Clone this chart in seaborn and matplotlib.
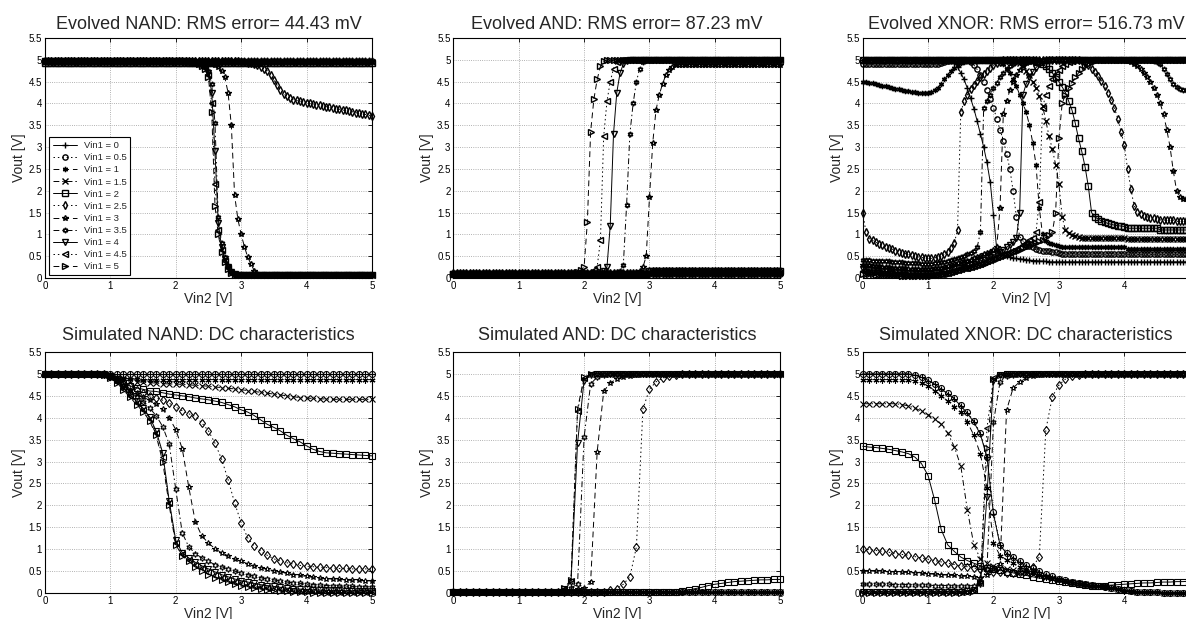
import numpy as np
import pandas as pd
import seaborn as sns
import matplotlib
matplotlib.use('Agg')
from matplotlib import pyplot as plt

vin1_labels = ['Vin1 = 0', 'Vin1 = 0.5', 'Vin1 = 1', 'Vin1 = 1.5', 'Vin1 = 2', 'Vin1 = 2.5',
               'Vin1 = 3', 'Vin1 = 3.5', 'Vin1 = 4', 'Vin1 = 4.5', 'Vin1 = 5']
evo_step = 0.05   # Vin2 sweep step of the evolved curves
sim_step = 0.1    # Vin2 sweep step of the simulated curves

# ---- Evolved NAND ----
en_0 = [5.0] * 101
en_05 = [4.98] * 101
en_1 = [4.96] * 101
en_15 = [4.94] * 101
en_2 = [4.92] * 101
en_25 = [4.97] * 60 + [4.95, 4.94, 4.93, 4.92, 4.9, 4.87, 4.84, 4.8, 4.75, 4.65, 4.54, 4.42, 4.31, 4.22, 4.16,
                       4.12, 4.09, 4.07, 4.05, 4.04, 4.02] + \
        [4.0, 3.99, 3.97, 3.96, 3.94, 3.93, 3.91, 3.9, 3.88, 3.87, 3.85, 3.84, 3.82, 3.81, 3.79, 3.78, 3.76,
         3.75, 3.73, 3.72]
en_3 = [4.97] * 48 + [4.96, 4.95, 4.93, 4.9, 4.87, 4.83, 4.75, 4.6, 4.25, 3.5, 1.9, 1.35, 1.0, 0.72, 0.48,
                      0.32, 0.17, 0.1] + [0.08] * 35
en_35 = [4.97] * 44 + [4.96, 4.95, 4.93, 4.91, 4.88, 4.84, 4.75, 4.45, 3.55, 1.4, 0.8, 0.48, 0.28, 0.15, 0.1] + [0.08] * 42
en_4 = [4.97] * 44 + [4.96, 4.95, 4.93, 4.91, 4.88, 4.83, 4.7, 4.25, 2.9, 1.26, 0.72, 0.44, 0.25, 0.13, 0.09] + [0.08] * 42
en_45 = [4.97] * 44 + [4.96, 4.95, 4.93, 4.9, 4.87, 4.82, 4.65, 4.0, 2.15, 1.1, 0.65, 0.4, 0.22, 0.12, 0.08] + [0.08] * 42
en_5 = [4.97] * 44 + [4.96, 4.94, 4.92, 4.9, 4.86, 4.8, 4.6, 3.8, 1.65, 1.0, 0.6, 0.36, 0.2, 0.11, 0.08] + [0.08] * 42

# ---- Evolved AND ----
ea_0 = [0.08] * 101
ea_05 = [0.1] * 101
ea_1 = [0.12] * 101
ea_15 = [0.1] * 60 + [0.13] * 41
ea_2 = [0.09] * 60 + [0.15] * 41
ea_25 = [0.11] * 60 + [0.17] * 41
ea_3 = [0.1] * 57 + [0.15, 0.25, 0.5, 1.85, 3.1, 3.85, 4.2, 4.45, 4.65, 4.77, 4.83] + [4.87] * 33
ea_35 = [0.1] * 51 + [0.15, 0.3, 1.67, 3.3, 4.0, 4.5, 4.8, 4.95] + [5.0] * 42
ea_4 = [0.1] * 46 + [0.15, 0.25, 1.2, 3.3, 4.25, 4.7, 4.9, 4.98] + [5.0] * 47
ea_45 = [0.1] * 42 + [0.12, 0.18, 0.25, 0.87, 3.25, 4.05, 4.5, 4.8, 4.95] + [5.0] * 50
ea_5 = [0.1] * 38 + [0.13, 0.18, 0.25, 1.28, 3.35, 4.1, 4.55, 4.85, 4.97] + [5.0] * 54

# ---- Evolved XNOR ----
ex_0 = [5.0] * 27 + [4.98, 4.93, 4.83, 4.7, 4.55, 4.35, 4.12, 3.88, 3.6, 3.3, 3.0, 2.65, 2.2, 1.45, 0.65,
                     0.58, 0.53, 0.5, 0.48, 0.46, 0.45, 0.44, 0.43, 0.42, 0.41, 0.4, 0.4, 0.39, 0.39, 0.38] + [0.37] * 44
ex_05 = [4.9] * 24 + [4.93, 4.96, 4.98] + [5.0] * 6 + \
        [4.95, 4.88, 4.78, 4.65, 4.5, 4.3, 4.1, 3.9, 3.65, 3.4, 3.15, 2.85, 2.5, 2.0, 1.4, 0.95, 0.85, 0.78,
         0.74, 0.7, 0.67, 0.65, 0.63, 0.62, 0.61, 0.6, 0.59, 0.58] + [0.56] * 20 + [0.54] * 20
ex_1 = [4.5, 4.49, 4.48, 4.46, 4.45, 4.43, 4.41, 4.39, 4.37, 4.35, 4.34, 4.32, 4.31, 4.29, 4.28, 4.27, 4.26,
        4.25, 4.24, 4.24, 4.24, 4.26, 4.3, 4.36, 4.45, 4.55, 4.65, 4.74, 4.82, 4.88, 4.93, 4.96, 4.98] + \
       [5.0] * 9 + [4.97, 4.9, 4.8, 4.7, 4.55, 4.4, 4.2, 4.0, 3.8, 3.5, 3.1, 2.6, 1.6, 1.0, 0.85, 0.8, 0.77,
                    0.75, 0.73] + [0.7] * 20 + [0.67] * 20
ex_15 = [5.0] * 47 + [4.97, 4.92, 4.85, 4.75, 4.65, 4.5, 4.35, 4.18, 3.95, 3.6, 3.25, 2.95, 2.6, 2.15, 1.4,
                      1.1, 1.02, 0.98, 0.96, 0.94] + [0.92] * 14 + [0.89] * 20
ex_2 = [5.0] * 53 + [4.98, 4.95, 4.9, 4.85, 4.78, 4.7, 4.6, 4.5, 4.38, 4.25, 4.05, 3.85, 3.55, 3.2, 2.9, 2.55,
                     2.1, 1.5, 1.4, 1.35, 1.31, 1.28, 1.25, 1.23, 1.21, 1.2, 1.19, 1.18] + [1.14] * 10 + [1.1] * 10
ex_25 = [1.5, 1.05, 0.9, 0.86, 0.82, 0.78, 0.75, 0.72, 0.69, 0.66, 0.63, 0.6, 0.58, 0.56, 0.54, 0.52, 0.5,
         0.48, 0.47, 0.46, 0.45, 0.45, 0.46, 0.48, 0.5, 0.54, 0.6, 0.68, 0.8, 1.1, 3.8, 4.05, 4.2, 4.32, 4.42,
         4.52, 4.6, 4.68, 4.75, 4.82, 4.88, 4.92, 4.96] + [5.0] * 24 + \
        [4.97, 4.93, 4.87, 4.8, 4.72, 4.62, 4.52, 4.4, 4.25, 4.08, 3.9, 3.65, 3.35, 3.05, 2.5, 2.05, 1.65, 1.52,
         1.46, 1.42, 1.4, 1.38, 1.37, 1.36] + [1.33] * 5 + [1.3] * 5
ex_3 = [0.3, 0.29, 0.29, 0.28, 0.27, 0.27, 0.26, 0.25, 0.25, 0.24, 0.23, 0.23, 0.22, 0.22, 0.21, 0.21, 0.2,
        0.2, 0.2, 0.2, 0.2] + \
       [0.21, 0.22, 0.23, 0.24, 0.26, 0.28, 0.3, 0.32, 0.34, 0.36, 0.38, 0.4, 0.42, 0.45, 0.48, 0.51, 0.54,
        0.57, 0.6, 0.65, 0.72] + \
       [1.6, 3.75, 4.05, 4.3, 4.5, 4.65, 4.77, 4.86, 4.92, 4.96, 4.98] + [5.0] * 28 + \
       [4.98, 4.95, 4.9, 4.85, 4.78, 4.7, 4.6, 4.5, 4.35, 4.2, 4.0, 3.75, 3.4, 3.0, 2.45, 2.0, 1.85, 1.81, 1.8, 1.8]
ex_35 = [0.42, 0.41, 0.41, 0.4, 0.4, 0.39, 0.39, 0.38, 0.38, 0.37, 0.37, 0.36, 0.36, 0.35, 0.35, 0.34, 0.34,
         0.34, 0.33, 0.33, 0.33] + \
        [0.33, 0.34, 0.35, 0.36, 0.37, 0.39, 0.41, 0.43, 0.45, 0.48, 0.51, 0.54, 0.58, 0.63, 0.7] + \
        [1.05, 3.9, 4.05, 4.2, 4.35, 4.48, 4.6, 4.7, 4.78, 4.85, 4.9, 4.95, 4.98] + [5.0] * 40 + \
        [4.98, 4.95, 4.9, 4.8, 4.68, 4.55, 4.45, 4.38, 4.33, 4.31, 4.3, 4.3]
ex_4 = [0.2, 0.19, 0.19, 0.18, 0.17, 0.17, 0.16, 0.15, 0.15, 0.14, 0.13, 0.13, 0.12, 0.12, 0.11, 0.11, 0.1,
        0.1, 0.1, 0.1, 0.1] + \
       [0.1, 0.11, 0.12, 0.13, 0.14, 0.16, 0.18, 0.2, 0.22, 0.24, 0.26, 0.28, 0.3, 0.33, 0.36, 0.39, 0.42,
        0.45, 0.48, 0.52, 0.56, 0.6, 0.65, 0.7, 0.76, 0.82] + \
       [0.92, 1.5, 4.2, 4.45, 4.6, 4.72, 4.82, 4.9, 4.95, 4.98] + [5.0] * 44
ex_45 = [0.15, 0.14, 0.14, 0.13, 0.13, 0.12, 0.12, 0.11, 0.11, 0.1, 0.1, 0.09, 0.09, 0.08, 0.08, 0.08, 0.07,
         0.07, 0.07, 0.07, 0.07] + \
        [0.07, 0.08, 0.09, 0.1, 0.11, 0.12, 0.14, 0.16, 0.18, 0.2, 0.22, 0.24, 0.26, 0.28, 0.3, 0.33, 0.36,
         0.39, 0.42, 0.45, 0.48, 0.51, 0.54, 0.57, 0.6, 0.63, 0.67, 0.71, 0.75, 0.8, 0.86, 0.92] + \
        [1.05, 1.75, 3.9, 4.2, 4.4, 4.55, 4.67, 4.77, 4.85, 4.91, 4.95, 4.98] + [5.0] * 36
ex_5 = [0.1, 0.1, 0.09, 0.09, 0.08, 0.08, 0.07, 0.07, 0.07, 0.06, 0.06, 0.06, 0.05, 0.05, 0.05, 0.05, 0.05,
        0.05, 0.05, 0.05, 0.05] + \
       [0.05, 0.06, 0.07, 0.08, 0.09, 0.1, 0.12, 0.14, 0.16, 0.18, 0.2, 0.22, 0.24, 0.26, 0.28, 0.3, 0.32,
        0.35, 0.38, 0.41, 0.44, 0.47, 0.5, 0.53, 0.56, 0.59, 0.62, 0.65, 0.68, 0.71, 0.74, 0.77, 0.8, 0.84,
        0.88, 0.93, 0.98] + \
       [1.05, 1.5, 3.2, 4.0, 4.2, 4.35, 4.48, 4.6, 4.7, 4.78, 4.85, 4.9, 4.94, 4.97, 4.99] + [5.0] * 28

# ---- Simulated NAND ----
sn_0 = [5.0] * 51
sn_05 = [4.99] * 51
sn_1 = [5.0] * 10 + [4.97, 4.93, 4.9, 4.89, 4.88] + [4.87] * 36
sn_15 = [5.0] * 9 + [4.98, 4.95, 4.9, 4.87, 4.84, 4.82, 4.81, 4.8, 4.79, 4.78, 4.77, 4.77, 4.76, 4.75, 4.74,
                     4.73, 4.72, 4.7, 4.69, 4.67, 4.66, 4.64, 4.62, 4.6, 4.58, 4.56, 4.54, 4.52, 4.5, 4.48,
                     4.46, 4.45, 4.44, 4.43, 4.43] + [4.42] * 7
sn_2 = [5.0] * 10 + [4.95, 4.88, 4.8, 4.73, 4.68, 4.65, 4.61, 4.6, 4.57, 4.54, 4.52, 4.5, 4.48, 4.45, 4.43,
                     4.41, 4.38, 4.35, 4.3, 4.25, 4.18, 4.13, 4.05, 3.95, 3.85, 3.78, 3.7, 3.6, 3.52, 3.45,
                     3.36, 3.28, 3.23, 3.2, 3.19, 3.18, 3.17, 3.16, 3.15, 3.14, 3.13]
sn_25 = [5.0] * 10 + [4.95, 4.88, 4.8, 4.72, 4.63, 4.56, 4.5, 4.46, 4.4, 4.33, 4.25, 4.16, 4.09, 4.03, 3.88,
                      3.7, 3.42, 3.06, 2.59, 2.06, 1.6, 1.26, 1.07, 0.96, 0.86, 0.78, 0.73, 0.69, 0.66, 0.63,
                      0.61, 0.6, 0.59, 0.58, 0.57, 0.56, 0.56, 0.55, 0.55, 0.55, 0.55]
sn_3 = [5.0] * 10 + [4.95, 4.85, 4.75, 4.63, 4.55, 4.47, 4.4, 4.32, 4.19, 4.0, 3.73, 3.29, 2.41, 1.62, 1.3,
                     1.14, 1.01, 0.92, 0.85, 0.78, 0.72, 0.67, 0.62, 0.58, 0.54, 0.51, 0.48, 0.45, 0.42, 0.4,
                     0.38, 0.36, 0.34, 0.33, 0.32, 0.31, 0.3, 0.29, 0.29, 0.28, 0.28]
sn_35 = [5.0] * 10 + [4.93, 4.83, 4.72, 4.6, 4.48, 4.37, 4.22, 4.05, 3.8, 3.4, 2.37, 1.37, 1.05, 0.9, 0.8,
                      0.72, 0.65, 0.6, 0.55, 0.5, 0.46, 0.42, 0.38, 0.35, 0.32, 0.3, 0.27, 0.25, 0.23, 0.22,
                      0.2, 0.19, 0.18, 0.17, 0.16, 0.16, 0.15, 0.15, 0.14, 0.14, 0.14]
sn_4 = [5.0] * 9 + [4.98, 4.93, 4.85, 4.7, 4.52, 4.38, 4.22, 4.02, 3.7, 3.2, 2.1, 1.2, 0.92, 0.8, 0.7, 0.62,
                    0.55, 0.48, 0.42, 0.37, 0.32, 0.28, 0.25, 0.22, 0.19, 0.17, 0.15, 0.13, 0.11, 0.1, 0.09,
                    0.08, 0.07, 0.07, 0.06, 0.06, 0.06, 0.05, 0.05, 0.05, 0.05, 0.05]
sn_45 = [5.0] * 9 + [4.97, 4.92, 4.82, 4.66, 4.5, 4.34, 4.18, 3.97, 3.65, 3.1, 2.05, 1.15, 0.88, 0.75, 0.65,
                     0.56, 0.48, 0.41, 0.35, 0.3, 0.26, 0.22, 0.19, 0.16, 0.14, 0.12, 0.1, 0.08, 0.07, 0.06,
                     0.05, 0.04, 0.04, 0.03, 0.03, 0.03, 0.03, 0.02, 0.02, 0.02, 0.02, 0.02]
sn_5 = [5.0] * 9 + [4.97, 4.9, 4.8, 4.63, 4.47, 4.3, 4.14, 3.93, 3.6, 3.0, 2.0, 1.1, 0.85, 0.72, 0.6, 0.5,
                    0.42, 0.35, 0.29, 0.24, 0.2, 0.16, 0.13, 0.11, 0.09, 0.07, 0.06, 0.05, 0.04, 0.03, 0.02,
                    0.02] + [0.01] * 10

# ---- Simulated AND ----
sa_0 = [0.02] * 51
sa_05 = [0.02] * 51
sa_1 = [0.02] * 51
sa_15 = [0.02] * 51
sa_2 = [0.02] * 34 + [0.03, 0.04, 0.07, 0.1, 0.13, 0.17, 0.2, 0.22, 0.24, 0.26, 0.27, 0.28, 0.29, 0.3, 0.3,
                      0.31, 0.31]
sa_25 = [0.02] * 23 + [0.03, 0.06, 0.1, 0.2, 0.37, 1.05, 4.2, 4.65, 4.82, 4.9, 4.95, 4.98] + [5.0] * 16
sa_3 = [0.02] * 18 + [0.04, 0.08, 0.12, 0.25, 3.22, 4.6, 4.8, 4.88, 4.93, 4.96, 4.98] + [5.0] * 22
sa_35 = [0.02] * 17 + [0.05, 0.12, 0.2, 3.55, 4.77, 4.93, 4.97, 4.99] + [5.0] * 26
sa_4 = [0.02] * 17 + [0.08, 0.25, 3.42, 4.85, 4.98] + [5.0] * 29
sa_45 = [0.02] * 17 + [0.1, 0.28, 4.15, 4.9, 4.99] + [5.0] * 29
sa_5 = [0.02] * 17 + [0.12, 0.3, 4.2, 4.92, 5.0] + [5.0] * 29

# ---- Simulated XNOR ----
sx_0 = [5.0] * 8 + [4.97, 4.92, 4.85, 4.77, 4.65, 4.55, 4.43, 4.27, 4.1, 3.9, 3.62, 3.1, 1.8, 1.1, 0.9, 0.8,
                    0.7, 0.62, 0.55, 0.48, 0.42, 0.37, 0.32, 0.28, 0.25, 0.22, 0.19, 0.17, 0.15, 0.13, 0.11,
                    0.08, 0.05, 0.04, 0.03, 0.02, 0.02, 0.02, 0.01, 0.01, 0.01, 0.01, 0.01]
sx_05 = [5.0] * 8 + [4.98, 4.93, 4.86, 4.78, 4.67, 4.57, 4.45, 4.3, 4.12, 3.92, 3.65, 3.11, 1.86, 1.1, 0.92,
                     0.82, 0.72, 0.64, 0.57, 0.5, 0.44, 0.38, 0.33, 0.29, 0.26, 0.23, 0.2, 0.18, 0.16, 0.14,
                     0.12, 0.09, 0.06, 0.04, 0.03, 0.02, 0.02, 0.02, 0.01, 0.01, 0.01, 0.01, 0.01]
sx_1 = [4.87] * 8 + [4.84, 4.8, 4.73, 4.62, 4.5, 4.38, 4.25, 4.12, 3.9, 3.6, 3.17, 2.4, 1.15, 0.85, 0.76,
                     0.68, 0.6, 0.53, 0.47, 0.42, 0.37, 0.33, 0.29, 0.26, 0.23, 0.21, 0.19, 0.17, 0.15, 0.13,
                     0.11, 0.08, 0.05, 0.04, 0.03, 0.02, 0.02, 0.02, 0.01, 0.01, 0.01, 0.01, 0.01]
sx_15 = [4.32] * 6 + [4.3, 4.27, 4.22, 4.15, 4.07, 3.97, 3.85, 3.65, 3.34, 2.9, 1.9, 1.1, 0.78, 0.68, 0.62,
                      0.58, 0.55, 0.52, 0.49, 0.46, 0.43, 0.4, 0.37, 0.34, 0.31, 0.28, 0.25, 0.23, 0.21, 0.19,
                      0.17, 0.15, 0.12, 0.09, 0.06, 0.04, 0.03, 0.02, 0.02, 0.02] + [0.01] * 5
sx_2 = [3.35, 3.33, 3.32, 3.3, 3.28, 3.25, 3.22, 3.18, 3.1, 2.95, 2.68, 2.12, 1.45, 1.1, 0.95, 0.82, 0.74,
        0.68, 0.62, 0.58, 0.55, 0.52, 0.49, 0.46, 0.43, 0.4, 0.37, 0.34, 0.32, 0.3, 0.28, 0.25, 0.22, 0.2,
        0.18, 0.17, 0.17, 0.17, 0.18, 0.19, 0.2, 0.21, 0.22, 0.23, 0.23, 0.24, 0.25, 0.25, 0.26, 0.26, 0.27]
sx_25 = [1.0, 0.99, 0.97, 0.95, 0.93, 0.9, 0.88, 0.86, 0.83, 0.8, 0.77, 0.74, 0.71, 0.68, 0.65, 0.62, 0.6,
         0.57, 0.55, 0.52, 0.49, 0.47, 0.46, 0.46, 0.47, 0.5, 0.6, 0.82, 3.72, 4.48, 4.75, 4.88, 4.95,
         4.98] + [5.0] * 17
sx_3 = [0.5, 0.5, 0.5, 0.5, 0.49, 0.49, 0.48, 0.47, 0.46, 0.45, 0.44, 0.43, 0.42, 0.41, 0.4, 0.39, 0.38,
        0.37, 0.35, 0.4, 0.55, 0.66, 4.17, 4.68, 4.82, 4.9, 4.95, 4.98] + [5.0] * 23
sx_35 = [0.2, 0.2, 0.2, 0.2, 0.2, 0.19, 0.19, 0.19, 0.18, 0.18, 0.18, 0.17, 0.17, 0.17, 0.16, 0.16, 0.16,
         0.17, 0.25, 0.55, 3.9, 4.82, 4.95, 4.98] + [5.0] * 27
sx_4 = [0.03] * 16 + [0.04, 0.07, 0.2, 2.2, 4.85, 4.97] + [5.0] * 29
sx_45 = [0.02] * 16 + [0.03, 0.06, 0.22, 3.76, 4.9, 4.98] + [5.0] * 29
sx_5 = [0.01] * 16 + [0.02, 0.05, 0.25, 3.3, 4.88, 4.98] + [5.0] * 29

evolved_nand = [en_0, en_05, en_1, en_15, en_2, en_25, en_3, en_35, en_4, en_45, en_5]
evolved_and = [ea_0, ea_05, ea_1, ea_15, ea_2, ea_25, ea_3, ea_35, ea_4, ea_45, ea_5]
evolved_xnor = [ex_0, ex_05, ex_1, ex_15, ex_2, ex_25, ex_3, ex_35, ex_4, ex_45, ex_5]
sim_nand = [sn_0, sn_05, sn_1, sn_15, sn_2, sn_25, sn_3, sn_35, sn_4, sn_45, sn_5]
sim_and = [sa_0, sa_05, sa_1, sa_15, sa_2, sa_25, sa_3, sa_35, sa_4, sa_45, sa_5]
sim_xnor = [sx_0, sx_05, sx_1, sx_15, sx_2, sx_25, sx_3, sx_35, sx_4, sx_45, sx_5]

titles = ['Evolved NAND: RMS error= 44.43 mV', 'Evolved AND: RMS error= 87.23 mV',
          'Evolved XNOR: RMS error= 516.73 mV', 'Simulated NAND: DC characteristics',
          'Simulated AND: DC characteristics', 'Simulated XNOR: DC characteristics']
x_ticks = [0, 1, 2, 3, 4, 5]
y_ticks = [0, 0.5, 1, 1.5, 2, 2.5, 3, 3.5, 4, 4.5, 5, 5.5]

# matlab-like line specs: -+  :o  --*  -.x  -s  :d  --p  -.h  -v  :<  -->
line_markers = ['+', 'o', (6, 2, 0), 'x', 's', 'd', '*', (6, 1, 0), 'v', '<', '>']
dot, dash, dashdot = (1.5, 3), (6, 4), (6, 3, 1.5, 3)
line_dashes = [None, dot, dash, dashdot, None, dot, dash, dashdot, None, dot, dash]


def build_frame(series, step):
    parts = []
    for label, vout in zip(vin1_labels, series):
        vin2 = np.round(np.arange(len(vout)) * step, 3)
        parts.append(pd.DataFrame({'Vin2': vin2, 'Vout': vout, 'Vin1': label}))
    return pd.concat(parts, ignore_index=True)


sns.set_style('white')
plt.rcParams['font.family'] = ['Liberation Sans', 'DejaVu Sans']

fig = plt.figure(figsize=(11.86, 6.19), dpi=100)

col_left = [0.0379, 0.3822, 0.7274]
# left, bottom, height, data, step, marker size, marker edge width, title pad
panels = [
    (col_left[0], 0.5509, 0.3877, evolved_nand, evo_step, 3.8, 1.0, 6.8),
    (col_left[1], 0.5509, 0.3877, evolved_and, evo_step, 3.8, 1.0, 6.8),
    (col_left[2], 0.5509, 0.3877, evolved_xnor, evo_step, 3.8, 1.0, 6.8),
    (col_left[0], 0.0420, 0.3893, sim_nand, sim_step, 4.3, 0.8, 8.8),
    (col_left[1], 0.0420, 0.3893, sim_and, sim_step, 4.3, 0.8, 8.8),
    (col_left[2], 0.0420, 0.3893, sim_xnor, sim_step, 4.3, 0.8, 8.8),
]

for k, (left, bottom, height, series, step, ms, mew, tpad) in enumerate(panels):
    ax = fig.add_axes([left, bottom, 0.2757, height])
    df = build_frame(series, step)
    sns.lineplot(data=df, x='Vin2', y='Vout', hue='Vin1', hue_order=vin1_labels,
                 palette=['k'] * len(vin1_labels), legend=False, errorbar=None, ax=ax,
                 linewidth=0.7, markersize=ms, markeredgecolor='k', markerfacecolor='none',
                 markeredgewidth=mew, clip_on=False)
    for line, m, d in zip(ax.lines, line_markers, line_dashes):
        line.set_marker(m)
        if d is None:
            line.set_linestyle('-')
        else:
            line.set_dashes(d)

    ax.set_xlim(0, 5)
    ax.set_ylim(0, 5.5)
    ax.set_xticks(x_ticks)
    xlabels = ['%g' % t for t in x_ticks]
    if k in (2, 5):
        xlabels[-1] = ''   # this tick label falls outside the picture
    ax.set_xticklabels(xlabels)
    ax.set_yticks(y_ticks)
    ax.set_yticklabels(['%g' % t for t in y_ticks])
    ax.set_axisbelow(True)
    ax.grid(True, linestyle=':', linewidth=0.6, color='0.6')
    ax.tick_params(direction='in', length=3, width=0.6, labelsize=7, pad=2,
                   top=True, right=True, colors='k')
    for sp in ax.spines.values():
        sp.set_color('k')
        sp.set_linewidth(0.8)
    ax.set_xlabel('Vin2 [V]', fontsize=10, labelpad=1)
    ax.set_ylabel('Vout [V]', fontsize=10, labelpad=2)
    ax.set_title(titles[k], fontsize=13, pad=tpad)

    if k == 0:
        leg = ax.legend(handles=ax.lines[:11], labels=vin1_labels, loc='lower left',
                        bbox_to_anchor=(0.012, 0.012), borderaxespad=0, fontsize=6.8,
                        frameon=True, fancybox=False, edgecolor='k', framealpha=1,
                        handlelength=2.6, handletextpad=0.7, labelspacing=0.33,
                        borderpad=0.4)
        leg.get_frame().set_linewidth(0.8)

fig.savefig('out.png', dpi=100)
